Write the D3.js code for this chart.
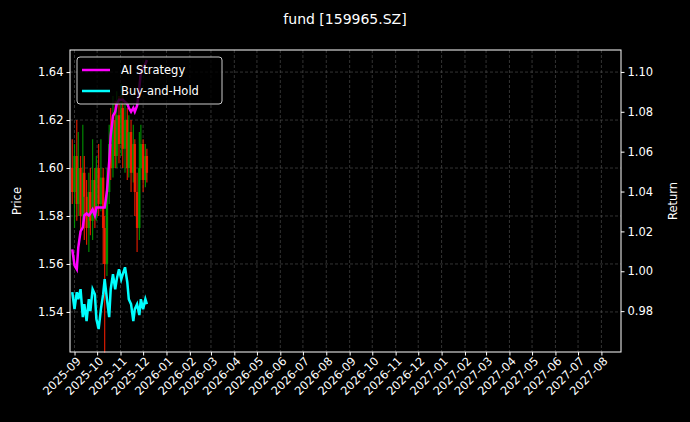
<!DOCTYPE html><html><head><meta charset="utf-8"><script src="https://cdn.jsdelivr.net/npm/d3@7"></script>
<style>body{margin:0;background:#000}</style></head><body><svg id="c" width="690" height="422"></svg>
<script>
const dates=["2025-08-29","2025-09-01","2025-09-04","2025-09-06","2025-09-09","2025-09-12","2025-09-14","2025-09-17","2025-09-20","2025-09-22","2025-09-25","2025-09-28","2025-09-30","2025-10-03","2025-10-06","2025-10-09","2025-10-11","2025-10-14","2025-10-17","2025-10-19","2025-10-22","2025-10-25","2025-10-27","2025-10-30","2025-11-02","2025-11-04","2025-11-07","2025-11-10","2025-11-12","2025-11-15","2025-11-18","2025-11-20","2025-11-23","2025-11-26","2025-11-28","2025-12-01","2025-12-04","2025-12-06"];
const buyHold=[0.9895,0.981,0.9895,0.986,0.991,0.977,0.9835,0.975,0.986,0.980,0.991,0.9885,0.976,0.971,0.981,0.9885,0.996,0.986,0.977,0.991,0.9985,0.991,0.996,1.001,0.996,0.9985,1.002,0.9945,0.986,0.9835,0.975,0.981,0.9835,0.978,0.986,0.981,0.986,0.9835];
const strategy=[1.011,1.003,1.001,1.012,1.020,1.022,1.028,1.029,1.028,1.029,1.031,1.028,1.032,1.032,1.032,1.032,1.032,1.040,1.055,1.068,1.078,1.080,1.084,1.086,1.086,1.086,1.085,1.084,1.082,1.080,1.082,1.080,1.083,1.092,1.100,1.102,1.104,1.106];
const opens=[1.600,1.590,1.605,1.585,1.600,1.580,1.598,1.588,1.575,1.590,1.578,1.595,1.580,1.600,1.585,1.596,1.575,1.560,1.590,1.610,1.600,1.620,1.605,1.622,1.610,1.625,1.608,1.620,1.600,1.615,1.598,1.610,1.590,1.575,1.600,1.610,1.595,1.605];
const closes=[1.590,1.605,1.585,1.600,1.580,1.598,1.588,1.575,1.590,1.578,1.595,1.580,1.600,1.585,1.596,1.575,1.560,1.590,1.610,1.600,1.620,1.605,1.622,1.610,1.625,1.608,1.620,1.600,1.615,1.598,1.610,1.590,1.575,1.600,1.610,1.595,1.605,1.598];
const lows=[1.585,1.575,1.578,1.580,1.572,1.575,1.570,1.568,1.565,1.572,1.570,1.575,1.578,1.580,1.582,1.560,1.523,1.555,1.585,1.595,1.596,1.600,1.600,1.602,1.605,1.600,1.598,1.595,1.596,1.590,1.594,1.580,1.565,1.570,1.595,1.590,1.592,1.594];
const highs=[1.612,1.610,1.620,1.615,1.605,1.618,1.605,1.595,1.598,1.600,1.612,1.600,1.605,1.610,1.612,1.600,1.580,1.600,1.618,1.625,1.630,1.628,1.632,1.630,1.635,1.632,1.628,1.625,1.622,1.620,1.618,1.612,1.598,1.615,1.618,1.612,1.610,1.608];
const priceTicks=[1.54,1.56,1.58,1.60,1.62,1.64];
const returnTicks=[0.98,1.00,1.02,1.04,1.06,1.08,1.10];
const monthTicks=["2025-09","2025-10","2025-11","2025-12","2026-01","2026-02","2026-03","2026-04","2026-05","2026-06","2026-07","2026-08","2026-09","2026-10","2026-11","2026-12","2027-01","2027-02","2027-03","2027-04","2027-05","2027-06","2027-07","2027-08"];

const P=d3.timeParse("%Y-%m-%d"), M=d3.timeParse("%Y-%m");
const L=70,R=621,T=50,B=352;
const svg=d3.select("#c");
svg.append("rect").attr("width",690).attr("height",422).attr("fill","#000");
const x=d3.scaleTime().domain([P("2025-08-26"),P("2027-08-27")]).range([L,R]);
const y=d3.scaleLinear().domain([1.5233,1.6492]).range([B,T]);
const y2=d3.scaleLinear().domain([0.9595,1.111]).range([B,T]);
const g=svg.append("g");
monthTicks.forEach(m=>g.append("line").attr("x1",x(M(m))).attr("x2",x(M(m))).attr("y1",T).attr("y2",B).attr("stroke","#555").attr("stroke-width",0.6).attr("stroke-dasharray","3,2"));
priceTicks.forEach(v=>g.append("line").attr("x1",L).attr("x2",R).attr("y1",y(v)).attr("y2",y(v)).attr("stroke","#555").attr("stroke-width",0.6).attr("stroke-dasharray","3,2"));
dates.forEach((d,i)=>{const cx=x(P(d)),col=closes[i]>=opens[i]?"#00a000":"#ff2000";
 g.append("line").attr("x1",cx).attr("x2",cx).attr("y1",y(lows[i])).attr("y2",y(highs[i])).attr("stroke",col).attr("stroke-width",1.2).attr("opacity",0.85);
 g.append("rect").attr("x",cx-1.2).attr("width",2.4).attr("y",y(Math.max(opens[i],closes[i]))).attr("height",Math.max(1,Math.abs(y(opens[i])-y(closes[i])))).attr("fill",col).attr("opacity",0.85);});
const ln=s=>d3.line().x((d,i)=>x(P(dates[i]))).y(d=>y2(d))(s);
g.append("path").attr("d",ln(strategy)).attr("fill","none").attr("stroke","#ff00ff").attr("stroke-width",2.5);
g.append("path").attr("d",ln(buyHold)).attr("fill","none").attr("stroke","#00ffff").attr("stroke-width",2.5);
svg.append("rect").attr("x",L).attr("y",T).attr("width",R-L).attr("height",B-T).attr("fill","none").attr("stroke","#fff").attr("stroke-width",1);
const ff="DejaVu Sans, sans-serif";
const ax=svg.append("g").attr("transform",`translate(0,${B})`).call(d3.axisBottom(x).tickValues(monthTicks.map(M)).tickFormat(d3.timeFormat("%Y-%m")).tickSize(3.5));
ax.selectAll("text").attr("transform","rotate(-45)").attr("text-anchor","end").attr("dx","-0.2em").attr("dy","0.45em");
const ay=svg.append("g").attr("transform",`translate(${L},0)`).call(d3.axisLeft(y).tickValues(priceTicks).tickFormat(d3.format(".2f")).tickSize(3.5));
const ay2=svg.append("g").attr("transform",`translate(${R},0)`).call(d3.axisRight(y2).tickValues(returnTicks).tickFormat(d3.format(".2f")).tickSize(3.5));
[ax,ay,ay2].forEach(a=>{a.select(".domain").remove();a.selectAll("line").attr("stroke","#fff");a.selectAll("text").attr("fill","#fff").style("font-family",ff).style("font-size","11.5px");});
svg.append("text").attr("x",345).attr("y",24).attr("text-anchor","middle").attr("fill","#fff").style("font-family",ff).style("font-size","14px").text("fund [159965.SZ]");
svg.append("text").attr("transform","translate(21,201) rotate(-90)").attr("text-anchor","middle").attr("fill","#fff").style("font-family",ff).style("font-size","11.5px").text("Price");
svg.append("text").attr("transform","translate(677,201) rotate(-90)").attr("text-anchor","middle").attr("fill","#fff").style("font-family",ff).style("font-size","11.5px").text("Return");
const lg=svg.append("g");
lg.append("rect").attr("x",77).attr("y",57).attr("width",145).attr("height",47).attr("rx",3).attr("fill","#000").attr("fill-opacity",0.8).attr("stroke","#ccc");
[["AI Strategy","#ff00ff"],["Buy-and-Hold","#00ffff"]].forEach((e,i)=>{const yy=70+i*21;
 lg.append("line").attr("x1",82).attr("x2",110).attr("y1",yy).attr("y2",yy).attr("stroke",e[1]).attr("stroke-width",2.5);
 lg.append("text").attr("x",121).attr("y",yy+4).attr("fill","#fff").style("font-family",ff).style("font-size","11.5px").text(e[0]);});
</script></body></html>
